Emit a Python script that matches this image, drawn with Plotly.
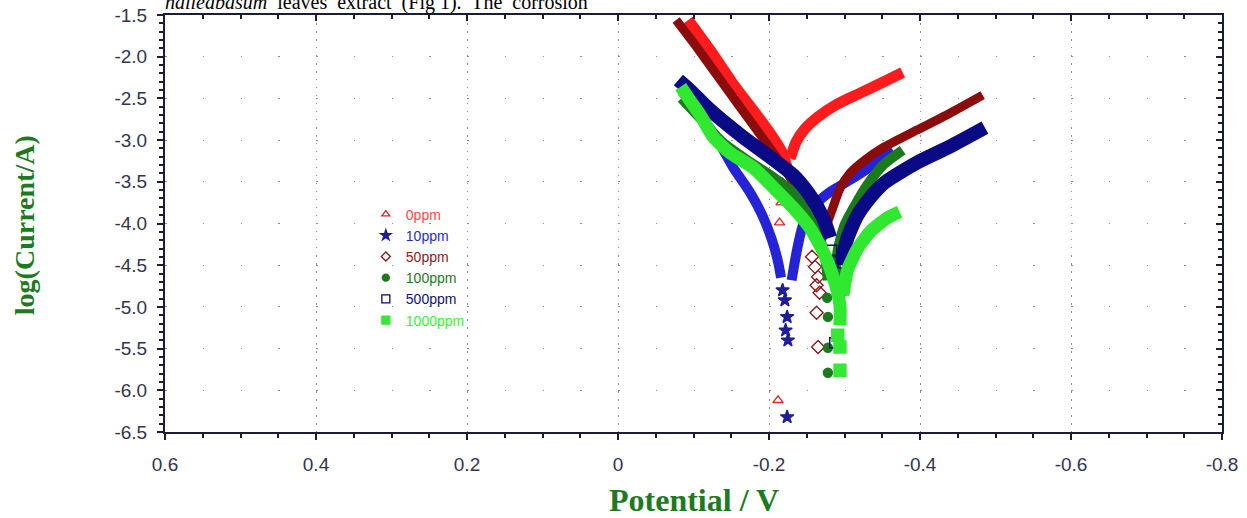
import plotly.graph_objects as go

# ---------------- axis ticks ----------------
x_tickvals = [0.6, 0.4, 0.2, 0.0, -0.2, -0.4, -0.6, -0.8]
x_ticktext = ["0.6", "0.4", "0.2", "0", "-0.2", "-0.4", "-0.6", "-0.8"]
y_tickvals = [-1.5, -2.0, -2.5, -3.0, -3.5, -4.0, -4.5, -5.0, -5.5, -6.0, -6.5]
y_ticktext = ["-1.5", "-2.0", "-2.5", "-3.0", "-3.5", "-4.0", "-4.5", "-5.0", "-5.5", "-6.0", "-6.5"]

series_names = ["0ppm", "10ppm", "50ppm", "100ppm", "500ppm", "1000ppm"]

# ---------------- 0 ppm ----------------
E0_cath = [-0.093, -0.122, -0.152, -0.179, -0.201, -0.217, -0.224]
I0_cath = [-1.56, -1.92, -2.32, -2.64, -2.91, -3.14, -3.33]
E0_dip = [-0.218, -0.213, -0.216, -0.214, -0.212]
I0_dip = [-3.51, -3.63, -3.75, -3.99, -6.12]
E0_anod = [-0.228, -0.236, -0.248, -0.265, -0.290, -0.320, -0.350, -0.377]
I0_anod = [-3.22, -3.02, -2.86, -2.72, -2.57, -2.44, -2.31, -2.19]

# ---------------- 10 ppm ----------------
E10_cath = [-0.085, -0.109, -0.132, -0.152, -0.175, -0.191, -0.204, -0.212, -0.216]
I10_cath = [-2.42, -2.70, -3.00, -3.32, -3.63, -3.90, -4.20, -4.46, -4.65]
E10_dip = [-0.218, -0.221, -0.224, -0.222, -0.225, -0.224]
I10_dip = [-4.80, -4.92, -5.12, -5.28, -5.40, -6.32]
E10_anod = [-0.230, -0.237, -0.245, -0.261, -0.281, -0.307, -0.334, -0.364]
I10_anod = [-4.68, -4.32, -4.02, -3.78, -3.62, -3.48, -3.32, -3.12]

# ---------------- 50 ppm ----------------
E50_cath = [-0.077, -0.103, -0.131, -0.159, -0.184, -0.208, -0.228, -0.245, -0.257]
I50_cath = [-1.56, -1.87, -2.22, -2.57, -2.88, -3.18, -3.45, -3.72, -3.98]
E50_dip = [-0.257, -0.261, -0.265, -0.263, -0.267, -0.263, -0.265]
I50_dip = [-4.40, -4.52, -4.64, -4.74, -4.83, -5.07, -5.48]
E50_anod = [-0.268, -0.275, -0.283, -0.294, -0.307, -0.327, -0.351, -0.396, -0.439, -0.483]
I50_anod = [-4.25, -4.05, -3.85, -3.58, -3.40, -3.24, -3.09, -2.88, -2.68, -2.46]

# ---------------- 100 ppm ----------------
E100_cath = [-0.084, -0.109, -0.139, -0.171, -0.205, -0.232, -0.254, -0.267, -0.275, -0.278]
I100_cath = [-2.50, -2.74, -3.03, -3.24, -3.44, -3.63, -3.90, -4.16, -4.46, -4.68]
E100_dip = [-0.277, -0.278, -0.278, -0.278]
I100_dip = [-4.89, -5.12, -5.49, -5.79]
E100_anod = [-0.287, -0.291, -0.300, -0.314, -0.330, -0.351, -0.377]
I100_anod = [-4.74, -4.32, -4.02, -3.78, -3.54, -3.30, -3.12]

# ---------------- 500 ppm ----------------
E500_cath = [-0.080, -0.095, -0.122, -0.165, -0.201, -0.232, -0.254, -0.271, -0.281]
I500_cath = [-2.28, -2.40, -2.64, -2.96, -3.20, -3.42, -3.66, -3.92, -4.17]
E500_dip = [-0.283, -0.285, -0.289, -0.291, -0.294, -0.287]
I500_dip = [-4.32, -4.46, -4.59, -4.71, -4.80, -5.43]
E500_anod = [-0.296, -0.303, -0.316, -0.334, -0.353, -0.396, -0.439, -0.486]
I500_anod = [-4.50, -4.20, -3.92, -3.69, -3.51, -3.27, -3.08, -2.85]

# ---------------- 1000 ppm ----------------
E1000_cath = [-0.083, -0.095, -0.109, -0.126, -0.148, -0.179, -0.205, -0.232, -0.254, -0.274, -0.287, -0.294, -0.294]
I1000_cath = [-2.36, -2.52, -2.70, -2.96, -3.15, -3.33, -3.56, -3.81, -4.05, -4.38, -4.70, -4.98, -5.22]
E1000_dip = [-0.291, -0.294, -0.294]
I1000_dip = [-5.34, -5.48, -5.76]
E1000_anod = [-0.298, -0.304, -0.318, -0.336, -0.357, -0.373]
I1000_anod = [-4.86, -4.56, -4.29, -4.08, -3.93, -3.86]

# ---------------- styles ----------------
band_colors = ["#ff1c1c", "#2424d6", "#8a0c0c", "#1b7a1b", "#0a0a86", "#2fe82f"]
marker_colors = ["#d42a2a", "#1e1e9a", "#8a1a1a", "#1b7a1b", "#0a0a60", "#35e835"]
label_colors = ["#ff4a4a", "#2a2ac8", "#8a1c1c", "#1b7a1b", "#121270", "#3aee3a"]
symbols = ["triangle-up-open", "star", "diamond-open", "circle", "square-open", "square"]
marker_sizes = [9, 10, 10, 9, 10, 12]
legend_sizes = [7, 8, 7, 7, 8, 8]
band_widths = [11, 10, 9, 10, 14, 13]

cath = [(E0_cath, I0_cath), (E10_cath, I10_cath), (E50_cath, I50_cath),
        (E100_cath, I100_cath), (E500_cath, I500_cath), (E1000_cath, I1000_cath)]
dips = [(E0_dip, I0_dip), (E10_dip, I10_dip), (E50_dip, I50_dip),
        (E100_dip, I100_dip), (E500_dip, I500_dip), (E1000_dip, I1000_dip)]
anod = [(E0_anod, I0_anod), (E10_anod, I10_anod), (E50_anod, I50_anod),
        (E100_anod, I100_anod), (E500_anod, I500_anod), (E1000_anod, I1000_anod)]

fig = go.Figure()

for k, name in enumerate(series_names):
    for (ex, iy) in (cath[k], anod[k]):
        fig.add_trace(go.Scatter(
            x=ex, y=iy, mode="lines", showlegend=False, hoverinfo="skip",
            line=dict(color=band_colors[k], width=band_widths[k], shape="spline", smoothing=0.6),
        ))
    fig.add_trace(go.Scatter(
        x=dips[k][0], y=dips[k][1], mode="markers", showlegend=False, name=name,
        marker=dict(symbol=symbols[k], size=marker_sizes[k], color=marker_colors[k],
                    line=dict(color=marker_colors[k], width=1.4)),
    ))

# legend entries (symbols only)
for k, name in enumerate(series_names):
    fig.add_trace(go.Scatter(
        x=[None], y=[None], mode="markers",
        name=f"<span style='color:{label_colors[k]}'>{name}</span>",
        marker=dict(symbol=symbols[k], size=legend_sizes[k], color=marker_colors[k],
                    line=dict(color=marker_colors[k], width=1.3)),
    ))

# invisible trace to activate the mirrored (top / right) tick axes
fig.add_trace(go.Scatter(x=[None], y=[None], xaxis="x2", yaxis="y2",
                         showlegend=False, hoverinfo="skip"))

axis_color = "#1c1c34"
tick_font = dict(family="Liberation Sans, Arial, sans-serif", size=19, color="#34344e")

fig.update_layout(
    xaxis=dict(
        range=[0.6, -0.8], tickmode="array", tickvals=x_tickvals, ticktext=x_ticktext,
        ticks="outside", ticklen=6, tickwidth=1.5, tickcolor=axis_color,
        showline=True, linecolor=axis_color, linewidth=2, mirror=True,
        showgrid=True, gridcolor="#8c8c8c", gridwidth=1, griddash="1.5px,6.5px",
        zeroline=False, tickfont=tick_font, ticklabelstandoff=8, automargin=False,
        minor=dict(tickmode="linear", tick0=0, dtick=0.05, ticks="outside", ticklen=4,
                   tickcolor=axis_color, showgrid=False),
    ),
    yaxis=dict(
        range=[-6.5, -1.5], tickmode="array", tickvals=y_tickvals, ticktext=y_ticktext,
        ticks="outside", ticklen=6, tickwidth=1.5, tickcolor=axis_color,
        showline=True, linecolor=axis_color, linewidth=2, mirror=True,
        showgrid=True, gridcolor="#8c8c8c", gridwidth=1, griddash="1.5px,36.25px",
        zeroline=False, tickfont=tick_font, ticklabelstandoff=6, automargin=False,
        minor=dict(tickmode="linear", tick0=-1.5, dtick=0.1, ticks="outside", ticklen=4,
                   tickcolor=axis_color, showgrid=False),
    ),
    xaxis2=dict(
        overlaying="x", side="top", anchor="y", range=[0.6, -0.8],
        tickmode="array", tickvals=x_tickvals, showticklabels=False,
        ticks="inside", ticklen=6, tickwidth=1.5, tickcolor=axis_color,
        showline=False, showgrid=False, zeroline=False, automargin=False,
        minor=dict(tickmode="linear", tick0=0, dtick=0.05, ticks="inside", ticklen=4,
                   tickcolor=axis_color, showgrid=False),
    ),
    yaxis2=dict(
        overlaying="y", side="right", anchor="x", range=[-6.5, -1.5],
        tickmode="array", tickvals=y_tickvals, showticklabels=False,
        ticks="inside", ticklen=6, tickwidth=1.5, tickcolor=axis_color,
        showline=False, showgrid=False, zeroline=False, automargin=False,
        minor=dict(tickmode="linear", tick0=-1.5, dtick=0.1, ticks="inside", ticklen=4,
                   tickcolor=axis_color, showgrid=False),
    ),
)

title_color = "#1e7a1e"
fig.add_annotation(
    text="<b>log(Current/A)</b>", xref="paper", yref="paper",
    x=-0.133, y=0.497, xanchor="center", yanchor="middle", textangle=-90, showarrow=False,
    font=dict(family="Liberation Serif, Times New Roman, serif", size=28, color=title_color),
)
fig.add_annotation(
    text="<b>Potential / V</b>", xref="paper", yref="paper",
    x=0.5, y=-0.163, xanchor="center", yanchor="middle", showarrow=False,
    font=dict(family="Liberation Serif, Times New Roman, serif", size=32, color=title_color),
)
fig.add_annotation(
    text="<i>nalleabasum</i>  leaves  extract  (Fig 1).  The  corrosion",
    xref="paper", yref="paper", x=-0.002, y=0.997, xanchor="left", yanchor="bottom",
    showarrow=False,
    font=dict(family="Liberation Serif, Times New Roman, serif", size=20, color="#000000"),
)

fig.update_layout(
    width=1247, height=518,
    margin=dict(l=165, r=25, t=15, b=86),
    paper_bgcolor="white", plot_bgcolor="white",
    showlegend=True,
    legend=dict(x=0.19, y=0.56, xanchor="left", yanchor="top",
                bgcolor="rgba(0,0,0,0)", font=dict(family="Liberation Sans, Arial, sans-serif", size=14),
                itemwidth=30, tracegroupgap=0),
)

fig.write_html("out.html", config={"displayModeBar": False},
               post_script="document.body.style.margin='0px';")
